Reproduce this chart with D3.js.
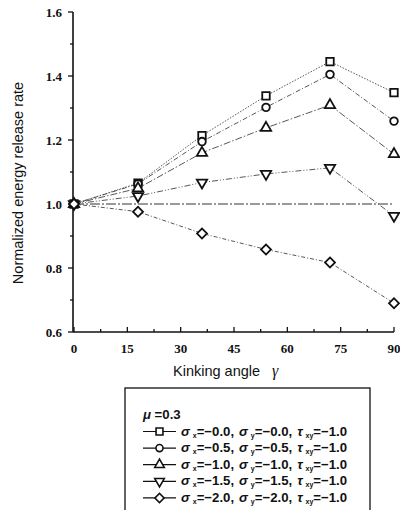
<!DOCTYPE html>
<meta charset="utf-8">
<script src="https://d3js.org/d3.v7.min.js"></script>
<title>Kinking angle</title>
<head>
<style>
  body { margin: 0; background: white; }
  .tick-label { font-family: "Liberation Serif", "DejaVu Serif", serif; font-size: 13px; font-weight: bold; fill: #111; }
  .axis-title { font-family: "Liberation Sans", Arial, sans-serif; font-size: 14.5px; fill: #111; }
  .legend-text { font-family: "Liberation Sans", Arial, sans-serif; font-size: 13.2px; font-weight: bold; fill: #111; }
</style>
</head>
<div id="main_chart"></div>
<script>
// kinking angles (deg)
var angles = [0, 18, 36, 54, 72, 90];

// normalized energy release rate per load case
var squareVals   = [1.000, 1.065, 1.214, 1.338, 1.445, 1.348];
var circleVals   = [1.000, 1.063, 1.195, 1.302, 1.405, 1.259];
var triUpVals    = [1.000, 1.049, 1.160, 1.238, 1.309, 1.156];
var triDownVals  = [1.000, 1.025, 1.067, 1.094, 1.113, 0.963];
var diamondVals  = [1.000, 0.976, 0.908, 0.858, 0.817, 0.690];

// reference line at 1.0
var refAngles = [0, 90];
var refVals = [1.0, 1.0];

var xTicks = [0, 15, 30, 45, 60, 75, 90];
var yTicks = [0.6, 0.8, 1.0, 1.2, 1.4, 1.6];

var legendLabels = [
  ["-0.0", "-0.0", "-1.0"],
  ["-0.5", "-0.5", "-1.0"],
  ["-1.0", "-1.0", "-1.0"],
  ["-1.5", "-1.5", "-1.0"],
  ["-2.0", "-2.0", "-1.0"]
];
var muLabel = "0.3";

var series = [
  {vals: squareVals,  shape: "square",  dash: "1.5,1.5"},
  {vals: circleVals,  shape: "circle",  dash: "5,2,1,2"},
  {vals: triUpVals,   shape: "triUp",   dash: "7,2,1.5,2"},
  {vals: triDownVals, shape: "triDown", dash: "6,2,1,2,1,2"},
  {vals: diamondVals, shape: "diamond", dash: "4,2,1,2"}
];

var width = 400, height = 510;

var svg = d3.select("#main_chart")
  .append("svg")
    .attr("width", width)
    .attr("height", height);

var x = d3.scaleLinear()
  .domain([0, 90])
  .range([74, 394]);

var y = d3.scaleLinear()
  .domain([0.6, 1.6])
  .range([332, 12]);

// symbol generator
var symbolFor = function(shape, scale) {
  scale = scale || 1;
  if (shape == "square")  return {d: d3.symbol().type(d3.symbolSquare).size(56 * scale)(), rot: 0};
  if (shape == "circle")  return {d: d3.symbol().type(d3.symbolCircle).size(46 * scale)(), rot: 0};
  if (shape == "triUp")   return {d: d3.symbol().type(d3.symbolTriangle).size(46 * scale)(), rot: 0};
  if (shape == "triDown") return {d: d3.symbol().type(d3.symbolTriangle).size(46 * scale)(), rot: 180};
  return {d: d3.symbol().type(d3.symbolSquare).size(50 * scale)(), rot: 45};
};

// y axis
svg.append("line")
  .attr("x1", x(0) - 1).attr("x2", x(0) - 1)
  .attr("y1", y(1.6)).attr("y2", y(0.6))
  .attr("stroke", "#111").attr("stroke-width", 1.6);

var yMinor = d3.range(6, 17).map(function(d) { return d / 10; });
svg.selectAll("ytick")
  .data(yMinor)
  .enter()
  .append("line")
    .attr("x1", x(0) - 1)
    .attr("x2", function(d, i) { return x(0) - (i % 2 == 0 ? 6 : 4); })
    .attr("y1", function(d) { return y(d); })
    .attr("y2", function(d) { return y(d); })
    .attr("stroke", "#111").attr("stroke-width", 1.3);

svg.selectAll("ylabel")
  .data(yTicks)
  .enter()
  .append("text")
    .attr("class", "tick-label")
    .attr("x", 62)
    .attr("y", function(d) { return y(d) + 4.5; })
    .attr("text-anchor", "end")
    .text(function(d) { return d.toFixed(1); });

// x axis
svg.append("line")
  .attr("x1", x(0) - 1).attr("x2", x(90))
  .attr("y1", y(0.6)).attr("y2", y(0.6))
  .attr("stroke", "#111").attr("stroke-width", 1.6);

var xMinor = d3.range(0, 13).map(function(d) { return d * 7.5; });
svg.selectAll("xtick")
  .data(xMinor)
  .enter()
  .append("line")
    .attr("x1", function(d) { return x(d); })
    .attr("x2", function(d) { return x(d); })
    .attr("y1", y(0.6))
    .attr("y2", function(d, i) { return y(0.6) - (i % 2 == 0 ? 5 : 3); })
    .attr("stroke", "#111").attr("stroke-width", 1.3);

svg.selectAll("xlabel")
  .data(xTicks)
  .enter()
  .append("text")
    .attr("class", "tick-label")
    .attr("x", function(d) { return x(d); })
    .attr("y", 353)
    .attr("text-anchor", "middle")
    .text(function(d) { return d; });

// axis titles
svg.append("text")
  .attr("class", "axis-title")
  .attr("transform", "translate(23,183) rotate(-90)")
  .attr("text-anchor", "middle")
  .text("Normalized energy release rate");

var xt = svg.append("text")
  .attr("class", "axis-title")
  .attr("x", 173)
  .attr("y", 376);
xt.append("tspan").text("Kinking angle");
xt.append("tspan")
  .attr("dx", 12)
  .style("font-family", "'Liberation Serif', serif")
  .style("font-style", "italic")
  .style("font-size", "16px")
  .text("\u03b3");

// reference line
var line = d3.line()
  .x(function(d) { return x(d[0]); })
  .y(function(d) { return y(d[1]); });

svg.append("path")
  .attr("d", line(d3.zip(refAngles, refVals)))
  .attr("fill", "none")
  .attr("stroke", "#333")
  .attr("stroke-width", 1)
  .attr("stroke-dasharray", "10,2,2,2");

// series lines
svg.selectAll("sline")
  .data(series)
  .enter()
  .append("path")
    .attr("d", function(s) { return line(d3.zip(angles, s.vals)); })
    .attr("fill", "none")
    .attr("stroke", "#444")
    .attr("stroke-width", 0.9)
    .attr("stroke-dasharray", function(s) { return s.dash; });

// markers
series.forEach(function(s) {
  var sym = symbolFor(s.shape);
  svg.selectAll(null)
    .data(d3.zip(angles, s.vals))
    .enter()
    .append("path")
      .attr("d", sym.d)
      .attr("transform", function(d) {
        return "translate(" + x(d[0]) + "," + y(d[1]) + ") rotate(" + sym.rot + ")";
      })
      .attr("fill", "white")
      .attr("stroke", "#111")
      .attr("stroke-width", 1.8);
});

// legend
svg.append("rect")
  .attr("x", 125).attr("y", 388)
  .attr("width", 245).attr("height", 140)
  .attr("fill", "white")
  .attr("stroke", "#111")
  .attr("stroke-width", 1.3);

var mu = svg.append("text")
  .attr("class", "legend-text")
  .attr("x", 143)
  .attr("y", 419);
mu.append("tspan").style("font-style", "italic").text("\u03bc");
mu.append("tspan").text(" =" + muLabel);

var rowY = function(i) { return 435.5 + i * 16.6; };

svg.selectAll("lline")
  .data(series)
  .enter()
  .append("line")
    .attr("x1", 143).attr("x2", 176)
    .attr("y1", function(d, i) { return rowY(i) - 4; })
    .attr("y2", function(d, i) { return rowY(i) - 4; })
    .attr("stroke", "#111").attr("stroke-width", 1.2);

series.forEach(function(s, i) {
  var sym = symbolFor(s.shape, 0.85);
  svg.append("path")
    .attr("d", sym.d)
    .attr("transform", "translate(159.5," + (rowY(i) - 4) + ") rotate(" + sym.rot + ")")
    .attr("fill", "white")
    .attr("stroke", "#111")
    .attr("stroke-width", 1.6);

  var t = svg.append("text")
    .attr("class", "legend-text")
    .attr("x", 181)
    .attr("y", rowY(i));
  var parts = [["\u03c3", "x"], ["\u03c3", "y"], ["\u03c4", "xy"]];
  parts.forEach(function(p, j) {
    t.append("tspan").attr("dx", j == 0 ? 0 : 5).style("font-style", "italic").text(p[0]);
    t.append("tspan").attr("dx", 3).attr("dy", 2).style("font-size", "7px").text(p[1]);
    t.append("tspan").attr("dy", -2)
      .text("=" + legendLabels[i][j].replace("-", "\u2212") + (j < 2 ? "," : ""));
  });
});
</script>
